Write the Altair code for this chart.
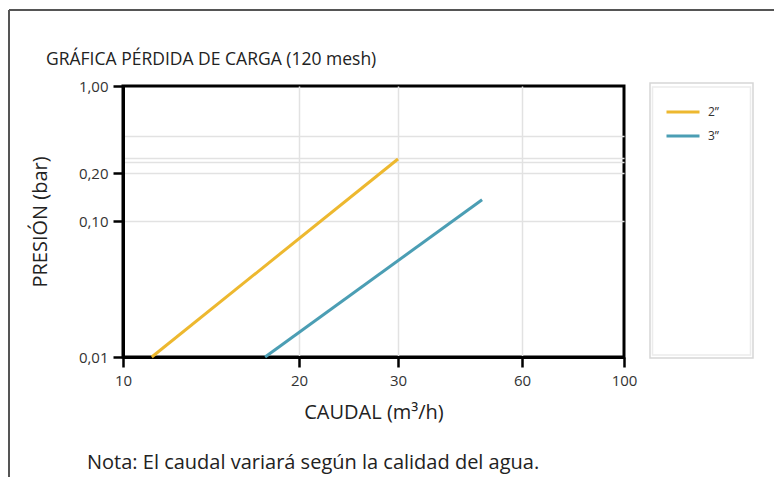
import altair as alt
import pandas as pd

# ---- data ----
series = ["2”", "2”", "3”", "3”"]
caudal = [11.2, 30.0, 17.5, 48.0]          # m3/h
presion = [0.01, 0.259, 0.01, 0.136]       # bar

x_ticks = [10, 20, 30, 60, 100]
y_ticks = [0.01, 0.1, 0.2, 1.0]
y_grid_extra = [0.245, 0.265, 0.4]

series_names = ["2”", "3”"]
series_colors = ["#EDB82F", "#4B9EB4"]

title_text = "GRÁFICA PÉRDIDA DE CARGA (120 mesh)"
note_text = "Nota: El caudal variará según la calidad del agua."

# ---- layout (plot area) ----
W, H = 501, 271
x_range = [0, 176, 275, 399, 501]      # the printed axis is not evenly logarithmic
y_range = [271, 135, 87, 0]

df = pd.DataFrame({"serie": series, "caudal": caudal, "presion": presion})
FONT = "Open Sans"

xscale = alt.Scale(type="log", domain=x_ticks, range=x_range, nice=False, zero=False)
yscale = alt.Scale(type="log", domain=y_ticks, range=y_range, nice=False, zero=False)

y_all = sorted(y_ticks + y_grid_extra)
y_lab_test = "datum.value==0.01||datum.value==0.1||datum.value==0.2||datum.value==1"

x_axis = alt.Axis(
    values=x_ticks, labelExpr="format(datum.value, 'd')", labelFlush=False,
    grid=True, gridColor="#e2e2e2", gridWidth=1.5,
    gridOpacity={"condition": {"test": "datum.value==20||datum.value==30||datum.value==60", "value": 1}, "value": 0},
    domainColor="#000000", domainWidth=3, tickColor="#000000", tickWidth=2.5, tickSize=10,
    labelPadding=6, labelFont=FONT, labelFontSize=15, labelColor="#333333",
    title="CAUDAL (m³/h)", titleFont=FONT, titleFontSize=20, titleFontWeight="normal", titleColor="#222222",
    titleX=W / 2, titleY=55, titleBaseline="middle", titleAlign="center",
)
y_axis = alt.Axis(
    values=y_all, labelExpr=f"({y_lab_test}) ? replace(format(datum.value, '.2f'), '.', ',') : ''", labelFlush=False,
    grid=True, gridColor="#e2e2e2", gridWidth=1.5,
    gridOpacity={"condition": {"test": "datum.value==0.01||datum.value==1", "value": 0}, "value": 1},
    tickOpacity={"condition": {"test": y_lab_test, "value": 1}, "value": 0},
    domainColor="#000000", domainWidth=3, tickColor="#000000", tickWidth=2.5, tickSize=10,
    labelPadding=5, labelFont=FONT, labelFontSize=15, labelColor="#333333",
    title="PRESIÓN (bar)", titleFont=FONT, titleFontSize=20, titleFontWeight="normal", titleColor="#222222",
    titleX=-83, titleY=H / 2, titleAngle=-90, titleBaseline="middle", titleAlign="center",
)

lines = alt.Chart(df).mark_line(strokeWidth=3).encode(
    x=alt.X("caudal:Q", scale=xscale, axis=x_axis),
    y=alt.Y("presion:Q", scale=yscale, axis=y_axis),
    color=alt.Color("serie:N", scale=alt.Scale(domain=series_names, range=series_colors),
        legend=alt.Legend(title=None, orient="none", legendX=542, legendY=8, symbolType="stroke",
            symbolSize=1089, symbolStrokeWidth=3, labelFont=FONT, labelFontSize=12, labelColor="#333333",
            labelOffset=7, padding=0, rowPadding=-3)),
    detail="serie:N",
)

one = alt.Data(values=[{"k": 1}])
frame_top = alt.Chart(one).mark_rule(stroke="#555555", strokeWidth=2).encode(
    x=alt.value(-114), x2=alt.value(700), y=alt.value(-76))
frame_left = alt.Chart(one).mark_rule(stroke="#555555", strokeWidth=2).encode(
    x=alt.value(-114), y=alt.value(-76), y2=alt.value(500))
legend_box_outer = alt.Chart(one).mark_rect(fill=None, stroke="#d6d6d6", strokeWidth=1.5).encode(
    x=alt.value(527), x2=alt.value(630), y=alt.value(-3), y2=alt.value(272))
legend_box_inner = alt.Chart(one).mark_rect(fill=None, stroke="#ececec", strokeWidth=1.5).encode(
    x=alt.value(529.5), x2=alt.value(627.5), y=alt.value(1), y2=alt.value(269))
title = alt.Chart(alt.Data(values=[{"t": title_text}])).mark_text(
    align="left", baseline="middle", font=FONT, fontSize=17.5, color="#222222"
).encode(text="t:N", x=alt.value(-77), y=alt.value(-26))
note = alt.Chart(alt.Data(values=[{"t": note_text}])).mark_text(
    align="left", baseline="middle", font=FONT, fontSize=20, color="#222222"
).encode(text="t:N", x=alt.value(-36), y=alt.value(377))

chart = alt.layer(frame_top, frame_left, legend_box_outer, legend_box_inner, lines, title, note).properties(
    width=W, height=H, autosize=alt.AutoSizeParams(type="none"),
    padding={"left": 115, "top": 78, "right": 150, "bottom": 120},
).configure_view(stroke="#000000", strokeWidth=3)

chart.save("out.html", embed_options={"renderer": "svg", "actions": False})
